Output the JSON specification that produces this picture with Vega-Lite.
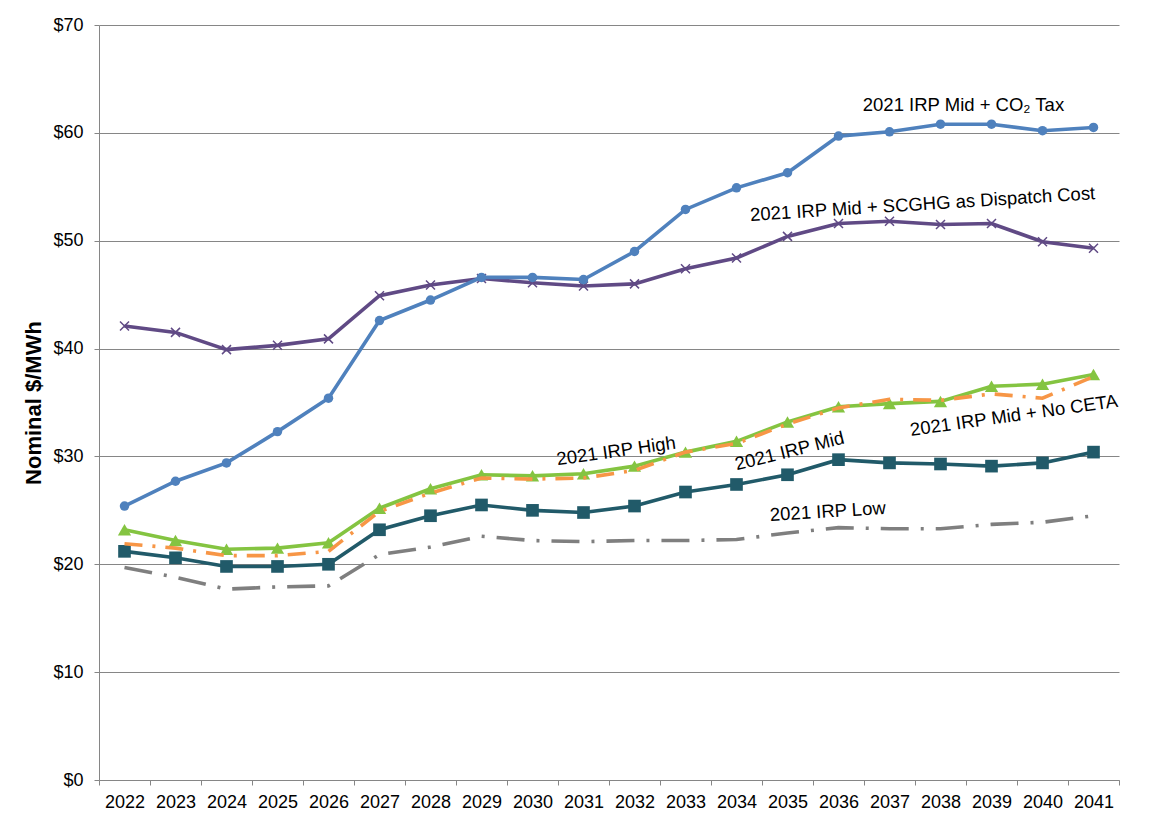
{
  "$schema": "https://vega.github.io/schema/vega-lite/v6.json",
  "width": 1020,
  "height": 755,
  "autosize": "none",
  "padding": {"left": 99, "top": 25, "right": 32, "bottom": 58},
  "background": "white",
  "config": {
    "font": "Liberation Sans",
    "view": {"stroke": null},
    "axis": {
      "labelFont": "Liberation Sans",
      "labelFontSize": 18,
      "labelColor": "#000000",
      "domainColor": "#868686",
      "tickColor": "#868686",
      "gridColor": "#868686",
      "tickSize": 5,
      "domainWidth": 1,
      "tickWidth": 1,
      "gridWidth": 1
    }
  },
  "datasets": {
    "prices": [
      {"year": 2022, "series": "CO2", "value": 25.4}, {"year": 2023, "series": "CO2", "value": 27.7}, {"year": 2024, "series": "CO2", "value": 29.4}, {"year": 2025, "series": "CO2", "value": 32.3}, {"year": 2026, "series": "CO2", "value": 35.4}, {"year": 2027, "series": "CO2", "value": 42.6}, {"year": 2028, "series": "CO2", "value": 44.5}, {"year": 2029, "series": "CO2", "value": 46.6}, {"year": 2030, "series": "CO2", "value": 46.6}, {"year": 2031, "series": "CO2", "value": 46.4}, {"year": 2032, "series": "CO2", "value": 49.0}, {"year": 2033, "series": "CO2", "value": 52.9}, {"year": 2034, "series": "CO2", "value": 54.9}, {"year": 2035, "series": "CO2", "value": 56.3}, {"year": 2036, "series": "CO2", "value": 59.7}, {"year": 2037, "series": "CO2", "value": 60.1}, {"year": 2038, "series": "CO2", "value": 60.8}, {"year": 2039, "series": "CO2", "value": 60.8}, {"year": 2040, "series": "CO2", "value": 60.2}, {"year": 2041, "series": "CO2", "value": 60.5},
      {"year": 2022, "series": "SCGHG", "value": 42.1}, {"year": 2023, "series": "SCGHG", "value": 41.5}, {"year": 2024, "series": "SCGHG", "value": 39.9}, {"year": 2025, "series": "SCGHG", "value": 40.3}, {"year": 2026, "series": "SCGHG", "value": 40.9}, {"year": 2027, "series": "SCGHG", "value": 44.9}, {"year": 2028, "series": "SCGHG", "value": 45.9}, {"year": 2029, "series": "SCGHG", "value": 46.5}, {"year": 2030, "series": "SCGHG", "value": 46.1}, {"year": 2031, "series": "SCGHG", "value": 45.8}, {"year": 2032, "series": "SCGHG", "value": 46.0}, {"year": 2033, "series": "SCGHG", "value": 47.4}, {"year": 2034, "series": "SCGHG", "value": 48.4}, {"year": 2035, "series": "SCGHG", "value": 50.4}, {"year": 2036, "series": "SCGHG", "value": 51.6}, {"year": 2037, "series": "SCGHG", "value": 51.8}, {"year": 2038, "series": "SCGHG", "value": 51.5}, {"year": 2039, "series": "SCGHG", "value": 51.6}, {"year": 2040, "series": "SCGHG", "value": 49.9}, {"year": 2041, "series": "SCGHG", "value": 49.3},
      {"year": 2022, "series": "High", "value": 23.2}, {"year": 2023, "series": "High", "value": 22.2}, {"year": 2024, "series": "High", "value": 21.4}, {"year": 2025, "series": "High", "value": 21.5}, {"year": 2026, "series": "High", "value": 22.0}, {"year": 2027, "series": "High", "value": 25.2}, {"year": 2028, "series": "High", "value": 27.0}, {"year": 2029, "series": "High", "value": 28.3}, {"year": 2030, "series": "High", "value": 28.2}, {"year": 2031, "series": "High", "value": 28.4}, {"year": 2032, "series": "High", "value": 29.1}, {"year": 2033, "series": "High", "value": 30.4}, {"year": 2034, "series": "High", "value": 31.4}, {"year": 2035, "series": "High", "value": 33.2}, {"year": 2036, "series": "High", "value": 34.6}, {"year": 2037, "series": "High", "value": 34.9}, {"year": 2038, "series": "High", "value": 35.1}, {"year": 2039, "series": "High", "value": 36.5}, {"year": 2040, "series": "High", "value": 36.7}, {"year": 2041, "series": "High", "value": 37.6},
      {"year": 2022, "series": "NoCETA", "value": 21.9}, {"year": 2023, "series": "NoCETA", "value": 21.5}, {"year": 2024, "series": "NoCETA", "value": 20.8}, {"year": 2025, "series": "NoCETA", "value": 20.8}, {"year": 2026, "series": "NoCETA", "value": 21.2}, {"year": 2027, "series": "NoCETA", "value": 24.9}, {"year": 2028, "series": "NoCETA", "value": 26.6}, {"year": 2029, "series": "NoCETA", "value": 28.0}, {"year": 2030, "series": "NoCETA", "value": 27.9}, {"year": 2031, "series": "NoCETA", "value": 28.0}, {"year": 2032, "series": "NoCETA", "value": 28.7}, {"year": 2033, "series": "NoCETA", "value": 30.4}, {"year": 2034, "series": "NoCETA", "value": 31.2}, {"year": 2035, "series": "NoCETA", "value": 33.0}, {"year": 2036, "series": "NoCETA", "value": 34.5}, {"year": 2037, "series": "NoCETA", "value": 35.3}, {"year": 2038, "series": "NoCETA", "value": 35.2}, {"year": 2039, "series": "NoCETA", "value": 35.8}, {"year": 2040, "series": "NoCETA", "value": 35.4}, {"year": 2041, "series": "NoCETA", "value": 37.4},
      {"year": 2022, "series": "Mid", "value": 21.2}, {"year": 2023, "series": "Mid", "value": 20.6}, {"year": 2024, "series": "Mid", "value": 19.8}, {"year": 2025, "series": "Mid", "value": 19.8}, {"year": 2026, "series": "Mid", "value": 20.0}, {"year": 2027, "series": "Mid", "value": 23.2}, {"year": 2028, "series": "Mid", "value": 24.5}, {"year": 2029, "series": "Mid", "value": 25.5}, {"year": 2030, "series": "Mid", "value": 25.0}, {"year": 2031, "series": "Mid", "value": 24.8}, {"year": 2032, "series": "Mid", "value": 25.4}, {"year": 2033, "series": "Mid", "value": 26.7}, {"year": 2034, "series": "Mid", "value": 27.4}, {"year": 2035, "series": "Mid", "value": 28.3}, {"year": 2036, "series": "Mid", "value": 29.7}, {"year": 2037, "series": "Mid", "value": 29.4}, {"year": 2038, "series": "Mid", "value": 29.3}, {"year": 2039, "series": "Mid", "value": 29.1}, {"year": 2040, "series": "Mid", "value": 29.4}, {"year": 2041, "series": "Mid", "value": 30.4},
      {"year": 2022, "series": "Low", "value": 19.7}, {"year": 2023, "series": "Low", "value": 18.8}, {"year": 2024, "series": "Low", "value": 17.7}, {"year": 2025, "series": "Low", "value": 17.9}, {"year": 2026, "series": "Low", "value": 18.0}, {"year": 2027, "series": "Low", "value": 20.9}, {"year": 2028, "series": "Low", "value": 21.6}, {"year": 2029, "series": "Low", "value": 22.6}, {"year": 2030, "series": "Low", "value": 22.2}, {"year": 2031, "series": "Low", "value": 22.1}, {"year": 2032, "series": "Low", "value": 22.2}, {"year": 2033, "series": "Low", "value": 22.2}, {"year": 2034, "series": "Low", "value": 22.3}, {"year": 2035, "series": "Low", "value": 22.9}, {"year": 2036, "series": "Low", "value": 23.4}, {"year": 2037, "series": "Low", "value": 23.3}, {"year": 2038, "series": "Low", "value": 23.3}, {"year": 2039, "series": "Low", "value": 23.7}, {"year": 2040, "series": "Low", "value": 23.9}, {"year": 2041, "series": "Low", "value": 24.5}
    ],
    "labels": [
      {"key": "CO2", "label": "2021 IRP Mid + CO₂ Tax", "pos": 2038.45, "value": 62.6},
      {"key": "SCGHG", "label": "2021 IRP Mid + SCGHG as Dispatch Cost", "pos": 2037.65, "value": 53.4},
      {"key": "High", "label": "2021 IRP High", "pos": 2031.64, "value": 30.5},
      {"key": "Mid", "label": "2021 IRP Mid", "pos": 2035.04, "value": 30.5},
      {"key": "NoCETA", "label": "2021 IRP Mid + No CETA", "pos": 2039.44, "value": 33.8},
      {"key": "Low", "label": "2021 IRP Low", "pos": 2035.79, "value": 24.9}
    ]
  },
  "encoding": {
    "y": {
      "field": "value", "type": "quantitative",
      "scale": {"domain": [0, 70], "nice": false},
      "axis": {
        "title": "Nominal $/MWh",
        "titleFont": "Liberation Sans",
        "titleFontSize": 22,
        "titleFontWeight": "bold",
        "titleColor": "#000000",
        "titlePadding": 7,
        "values": [0, 10, 20, 30, 40, 50, 60, 70],
        "labelExpr": "'$' + datum.value",
        "labelPadding": 11,
        "grid": true
      }
    }
  },
  "layer": [
    {
      "data": {"name": "prices"},
      "encoding": {
        "x": {
          "field": "year", "type": "ordinal",
          "scale": {"type": "band", "paddingInner": 0, "paddingOuter": 0},
          "axis": {"title": null, "labelAngle": 0, "tickBand": "extent", "labelPadding": 8, "grid": false}
        }
      },
      "layer": [
        {"transform": [{"filter": "datum.series === 'Low'"}], "mark": {"type": "line", "color": "#7f7f7f", "strokeWidth": 3.6, "strokeDash": [28, 12, 3, 12]}},
        {"transform": [{"filter": "datum.series === 'Mid'"}], "mark": {"type": "line", "color": "#215a69", "strokeWidth": 3.6}},
        {"transform": [{"filter": "datum.series === 'Mid'"}], "mark": {"type": "point", "shape": "square", "filled": true, "size": 160, "color": "#215a69", "opacity": 1}},
        {"transform": [{"filter": "datum.series === 'High'"}], "mark": {"type": "line", "color": "#84c441", "strokeWidth": 3.6}},
        {"transform": [{"filter": "datum.series === 'High'"}], "mark": {"type": "point", "shape": "triangle-up", "filled": true, "size": 175, "color": "#84c441", "opacity": 1}},
        {"transform": [{"filter": "datum.series === 'NoCETA'"}], "mark": {"type": "line", "color": "#f79646", "strokeWidth": 3.6, "strokeDash": [18, 10, 3, 10]}},
        {"transform": [{"filter": "datum.series === 'SCGHG'"}], "mark": {"type": "line", "color": "#604a85", "strokeWidth": 3.6}},
        {"transform": [{"filter": "datum.series === 'SCGHG'"}], "mark": {"type": "point", "shape": "M-1,-1L1,1M-1,1L1,-1", "filled": false, "size": 81, "strokeWidth": 1.5, "color": "#604a85", "opacity": 1}},
        {"transform": [{"filter": "datum.series === 'CO2'"}], "mark": {"type": "line", "color": "#4f81bd", "strokeWidth": 3.6}},
        {"transform": [{"filter": "datum.series === 'CO2'"}], "mark": {"type": "point", "shape": "circle", "filled": true, "size": 90, "color": "#4f81bd", "opacity": 1}}
      ]
    },
    {
      "data": {"name": "labels"},
      "encoding": {
        "x": {"field": "pos", "type": "quantitative", "scale": {"domain": [2021.5, 2041.5], "nice": false, "zero": false}, "axis": null},
        "text": {"field": "label"}
      },
      "layer": [
        {"transform": [{"filter": "datum.key === 'CO2'"}], "mark": {"type": "text", "fontSize": 18.5, "color": "#000000", "align": "center", "baseline": "middle", "angle": 0}},
        {"transform": [{"filter": "datum.key === 'SCGHG'"}], "mark": {"type": "text", "fontSize": 18.5, "color": "#000000", "align": "center", "baseline": "middle", "angle": -3.6}},
        {"transform": [{"filter": "datum.key === 'High'"}], "mark": {"type": "text", "fontSize": 18.5, "color": "#000000", "align": "center", "baseline": "middle", "angle": -8}},
        {"transform": [{"filter": "datum.key === 'Mid'"}], "mark": {"type": "text", "fontSize": 18.5, "color": "#000000", "align": "center", "baseline": "middle", "angle": -14}},
        {"transform": [{"filter": "datum.key === 'NoCETA'"}], "mark": {"type": "text", "fontSize": 18.5, "color": "#000000", "align": "center", "baseline": "middle", "angle": -8}},
        {"transform": [{"filter": "datum.key === 'Low'"}], "mark": {"type": "text", "fontSize": 18.5, "color": "#000000", "align": "center", "baseline": "middle", "angle": -3.5}}
      ]
    }
  ],
  "resolve": {"scale": {"x": "independent"}}
}
